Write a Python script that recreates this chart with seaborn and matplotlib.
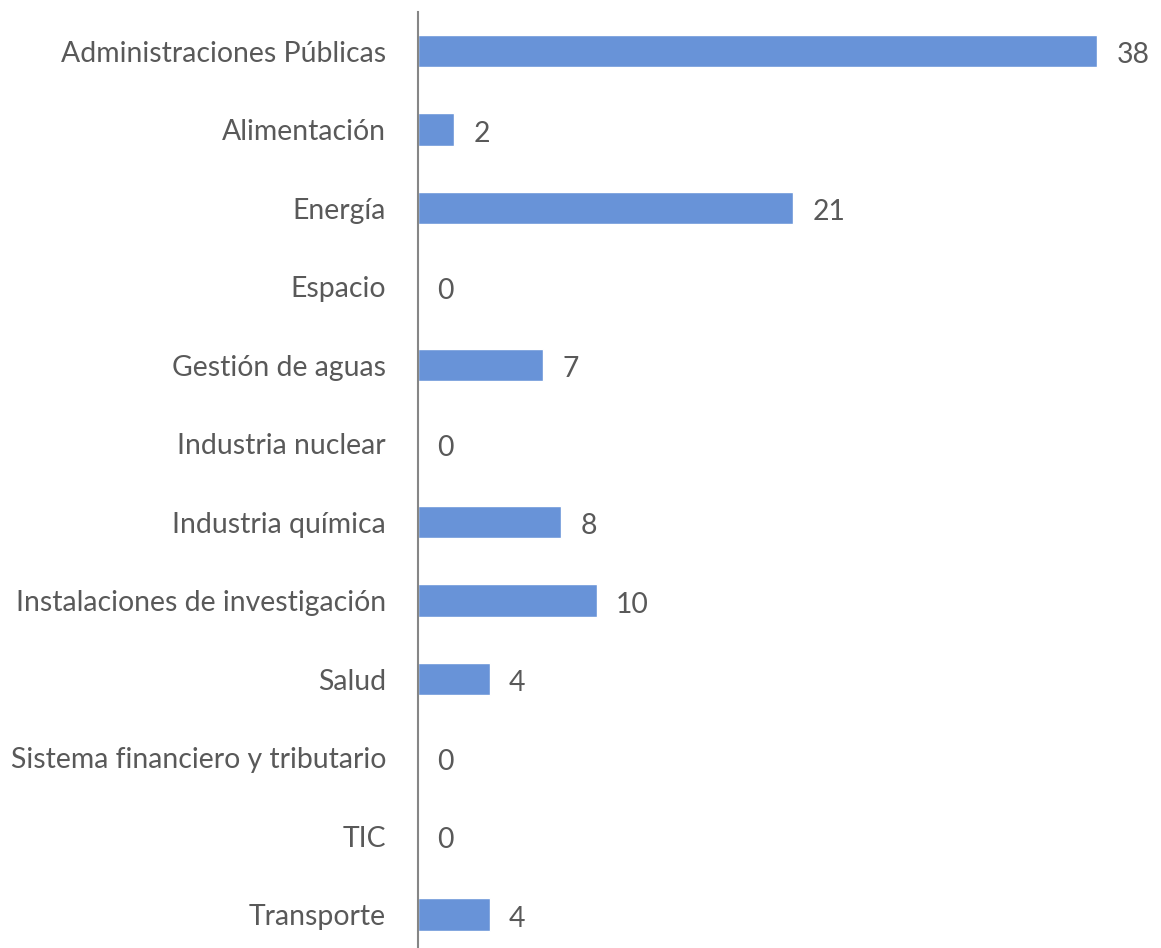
import matplotlib
matplotlib.use("Agg")
import matplotlib.pyplot as plt
import seaborn as sns

categories = ["Administraciones Públicas", "Alimentación", "Energía", "Espacio",
              "Gestión de aguas", "Industria nuclear", "Industria química",
              "Instalaciones de investigación", "Salud",
              "Sistema financiero y tributario", "TIC", "Transporte"]
values = [38, 2, 21, 0, 7, 0, 8, 10, 4, 0, 0, 4]

sns.set_theme(style="white")
plt.rcParams['font.family'] = ['Lato', 'DejaVu Sans']

fig = plt.figure(figsize=(11.61, 9.48), dpi=100)
ax = fig.add_axes([418/1161, (948-953.75)/948, 715/1161, 942/948])

sns.barplot(x=values, y=categories, color="#6893d8", width=0.41, ax=ax,
            saturation=1, orient="h")

ax.set_xlim(0, 40)
for c in ax.containers:
    texts = ax.bar_label(c, labels=[str(v) for v in values], padding=14,
                         fontsize=20.4, color="#595959")
    for t in texts:
        t.set_va("center")
        t.set_y(-3)

for s in ["top", "right", "bottom"]:
    ax.spines[s].set_visible(False)
ax.spines["left"].set_color("#868686")
ax.spines["left"].set_linewidth(1.5)
ax.set_xticks([])
ax.tick_params(axis="y", length=0, pad=23, labelsize=20.4, labelcolor="#595959")
ax.set_xlabel("")
ax.set_ylabel("")

fig.savefig("out.png", dpi=100)
